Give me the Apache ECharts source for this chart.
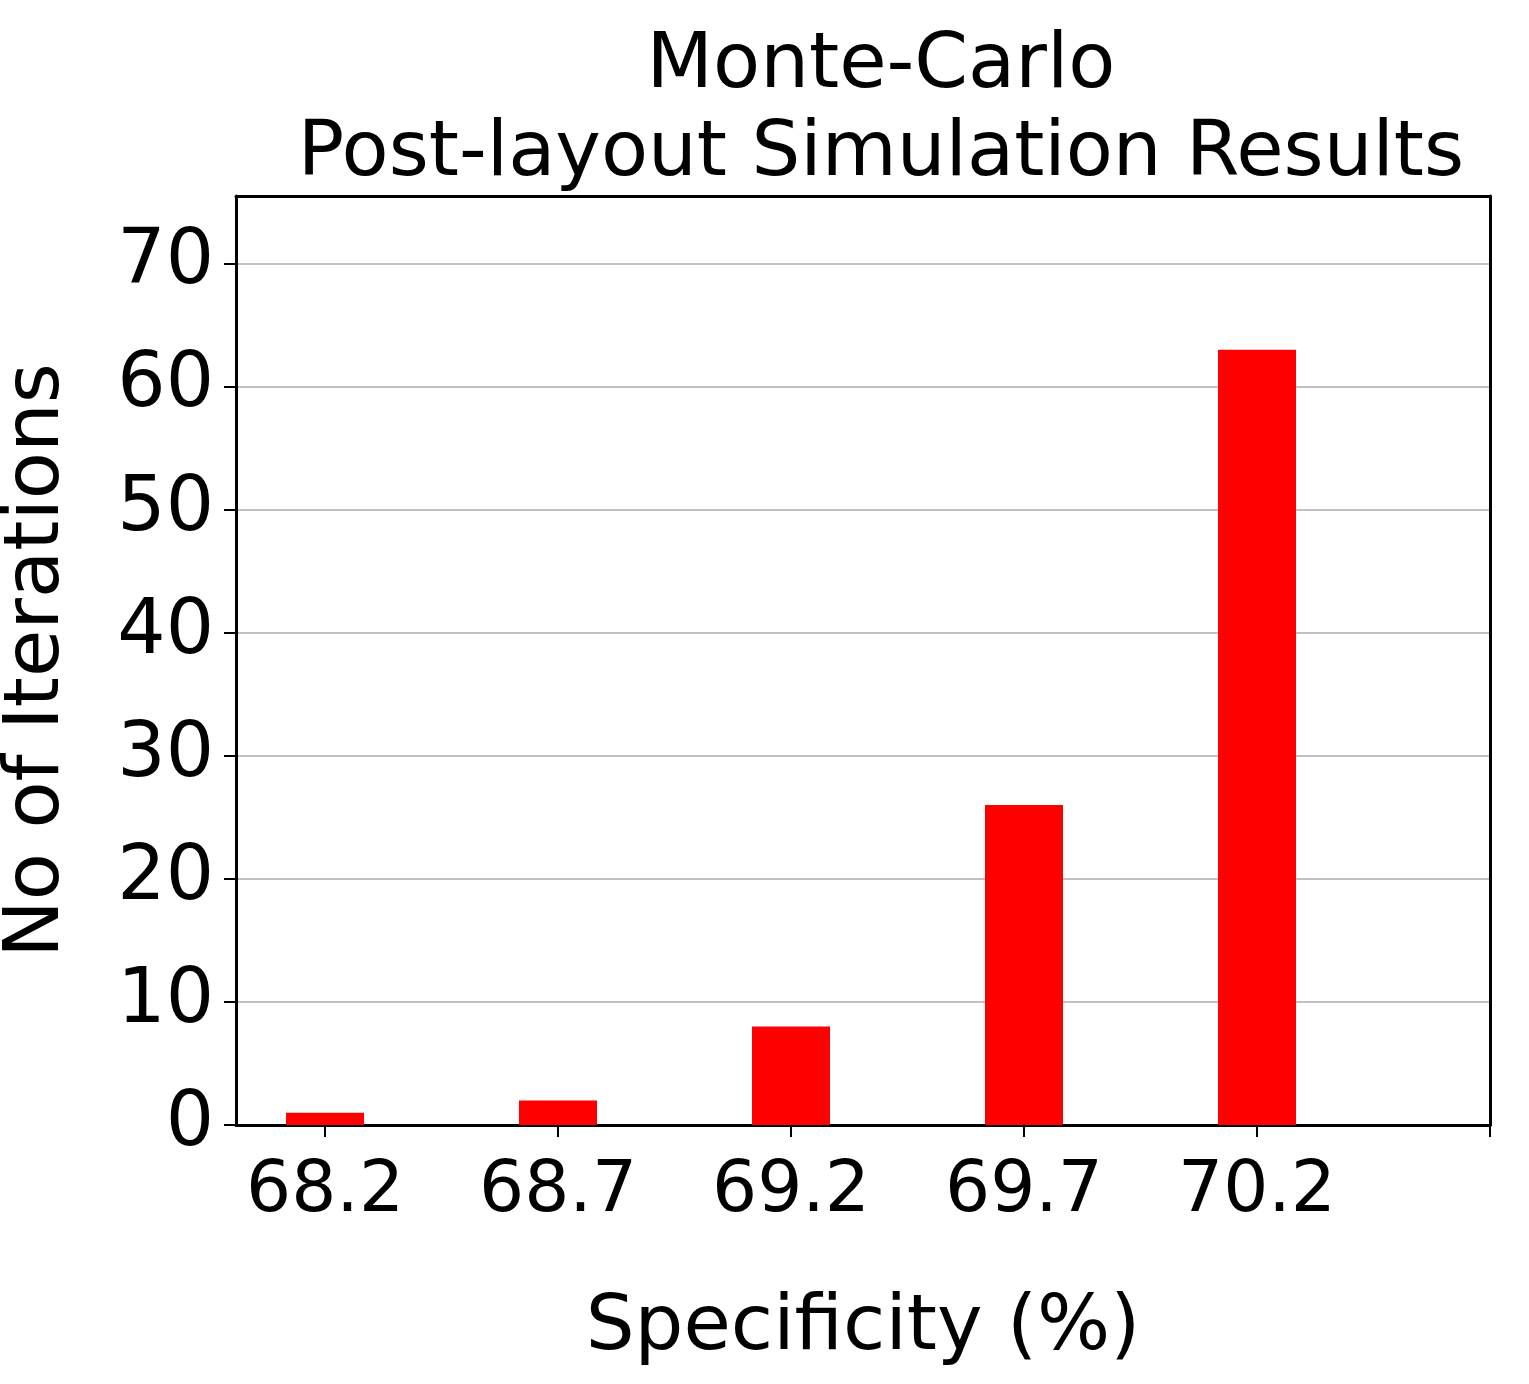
<!DOCTYPE html>
<html><head><meta charset="utf-8">
<script src="https://cdn.jsdelivr.net/npm/echarts@6/dist/echarts.min.js"></script>
<style>html,body{margin:0;padding:0;background:#fff}#c{width:1529px;height:1384px}</style>
</head><body><div id="c"></div>
<script>
const categories = [68.2, 68.7, 69.2, 69.7, 70.2];
const counts = [1, 2, 8, 26, 63];
const xTicks = [68.2, 68.7, 69.2, 69.7, 70.2, 70.7];
const yTicks = [0, 10, 20, 30, 40, 50, 60, 70];
const F = 'DejaVu Sans';
const chart = echarts.init(document.getElementById('c'));
chart.setOption({
  animation: false,
  title: { text: 'Monte-Carlo\nPost-layout Simulation Results', left: 876, top: 18, textAlign: 'center',
    textStyle: { fontFamily: F, fontSize: 77, fontWeight: 'normal', color: '#000', lineHeight: 88 } },
  grid: { left: 236, right: 39, top: 196, bottom: 259, outerBoundsMode: 'none', containLabel: false },
  xAxis: [{
    type: 'value', min: 68.2 - 0.191, max: 70.7,
    name: 'Specificity (%)', nameLocation: 'middle', nameGap: 165,
    nameTextStyle: { fontFamily: F, fontSize: 77, color: '#000' },
    axisLine: { onZero: false, lineStyle: { color: '#000', width: 3 } },
    axisTick: { show: true, length: 12, lineStyle: { color: '#000', width: 2 }, customValues: xTicks },
    axisLabel: { fontFamily: F, fontSize: 71, color: '#000', margin: 32, customValues: categories,
      formatter: v => v.toFixed(1) },
    splitLine: { show: false }
  }, {
    type: 'value', position: 'top', min: 68.2 - 0.191, max: 70.7,
    axisLine: { show: true, onZero: false, lineStyle: { color: '#000', width: 3 } },
    axisTick: { show: false }, axisLabel: { show: false }, splitLine: { show: false }
  }],
  yAxis: [{
    type: 'value', min: 0, max: 75.5, interval: 10,
    name: 'No of Iterations', nameLocation: 'middle', nameGap: 160,
    nameTextStyle: { fontFamily: F, fontSize: 77, color: '#000' },
    axisLine: { show: true, onZero: false, lineStyle: { color: '#000', width: 3 } },
    axisTick: { show: true, length: 12, lineStyle: { color: '#000', width: 2 }, customValues: yTicks },
    axisLabel: { fontFamily: F, fontSize: 76, color: '#000', margin: 22, customValues: yTicks },
    splitLine: { show: true, lineStyle: { color: '#c0c0c0', width: 2 } }
  }, {
    type: 'value', position: 'right', min: 0, max: 75.5,
    axisLine: { show: true, onZero: false, lineStyle: { color: '#000', width: 3 } },
    axisTick: { show: false }, axisLabel: { show: false }, splitLine: { show: false }
  }],
  series: [{
    type: 'bar', barWidth: 78, itemStyle: { color: '#ff0000' },
    data: categories.map((c, i) => [c, counts[i]])
  }]
});
</script></body></html>
